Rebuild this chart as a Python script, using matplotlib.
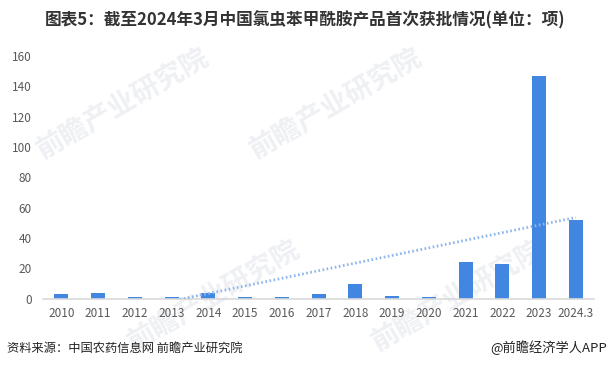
import numpy as np
import matplotlib
matplotlib.use("Agg")
import matplotlib.pyplot as plt

plt.rcParams['font.family'] = ['Noto Sans CJK SC', 'DejaVu Sans']

categories = ["2010", "2011", "2012", "2013", "2014", "2015", "2016", "2017",
              "2018", "2019", "2020", "2021", "2022", "2023", "2024.3"]
values = [3, 4, 1, 1, 4, 1, 1, 3, 10, 2, 1, 24, 23, 147, 52]
yticks = [0, 20, 40, 60, 80, 100, 120, 140, 160]

title = "图表5：截至2024年3月中国氯虫苯甲酰胺产品首次获批情况(单位：项)"
source = "资料来源：中国农药信息网 前瞻产业研究院"
credit = "@前瞻经济学人APP"

fig = plt.figure(figsize=(6.1, 3.69), dpi=100)
ax = fig.add_axes([0.0705, 0.1905, 0.9035, 0.6575])
ax.set_zorder(2)
ax.patch.set_alpha(0)

x = np.arange(len(categories))
ax.bar(x, values, width=0.38, color="#4186E0", zorder=2)

# linear trendline (Excel-style)
coef = np.polyfit(x + 1, values, 1)
xt = np.linspace(0, len(categories) - 1, 200)
ax.plot(xt, np.polyval(coef, xt + 1), color="#8FB6EC", lw=2, ls=(0, (0.6, 0.9)),
        zorder=3)

ax.set_xlim(-0.5, len(categories) - 0.5)
ax.set_ylim(0, 160)
ax.set_yticks(yticks)
ax.set_xticks(x)
ax.set_xticklabels(categories)
for s in ["top", "right", "left"]:
    ax.spines[s].set_visible(False)
ax.spines["bottom"].set_color("#D9D9D9")
ax.spines["bottom"].set_linewidth(1.2)
ax.tick_params(axis="both", length=0, labelsize=8.5, colors="#595959", pad=6)
ax.tick_params(axis="y", pad=8)

# faint watermarks (behind the axes)
for (wx, wy) in [(0.2, 0.72), (0.55, 0.72), (0.35, 0.2), (0.75, 0.2)]:
    fig.text(wx, wy, "前瞻产业研究院", fontsize=20, color="#EEF0F4", rotation=30,
             ha="center", va="center", fontweight="bold", zorder=0)

fig.text(0.5, 0.945, title, ha="center", va="center", fontsize=12,
         fontweight="bold", color="#333333", zorder=5)
fig.text(0.012, 0.057, source, ha="left", va="center", fontsize=8.8,
         color="#222222", zorder=5)
fig.text(0.995, 0.057, credit, ha="right", va="center", fontsize=9.5,
         color="#222222", zorder=5)

fig.savefig("out.png", dpi=100)
